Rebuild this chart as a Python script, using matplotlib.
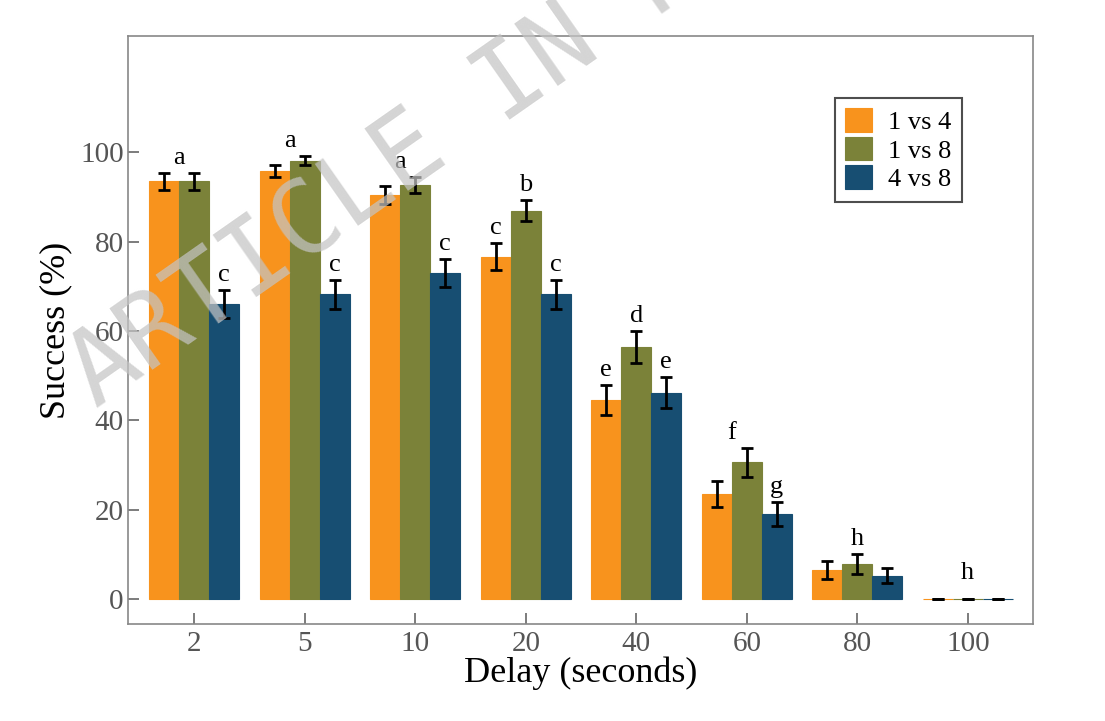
import matplotlib
matplotlib.use('Agg')
import matplotlib.pyplot as plt
import numpy as np

# values
delays = ['2', '5', '10', '20', '40', '60', '80', '100']
series = ['1 vs 4', '1 vs 8', '4 vs 8']
vs14 = [93.5, 95.8, 90.4, 76.6, 44.5, 23.5, 6.5, 0.0]
vs18 = [93.5, 98.1, 92.6, 86.9, 56.4, 30.6, 7.8, 0.0]
vs48 = [66.0, 68.2, 73.0, 68.2, 46.2, 19.0, 5.2, 0.0]
err14 = [1.9, 1.4, 2.1, 3.0, 3.4, 2.9, 2.0, 0.0]
err18 = [1.9, 1.0, 1.8, 2.3, 3.5, 3.2, 2.2, 0.0]
err48 = [3.1, 3.2, 3.1, 3.2, 3.4, 2.7, 1.7, 0.0]

# significance letters: (letter, bar slot) where slot -1/0/1 = bar, -0.5 = between first two
sig_letters = [
    [('a', -0.5), ('c', 1)],
    [('a', -0.5), ('c', 1)],
    [('a', -0.5), ('c', 1)],
    [('c', -1), ('b', 0), ('c', 1)],
    [('e', -1), ('d', 0), ('e', 1)],
    [('f', -0.5), ('g', 1)],
    [('h', 0)],
    [('h', 0)],
]

colors = ['#F8931D', '#7B8239', '#174E72']
serif = 'Liberation Serif'

fig = plt.figure(figsize=(11.05, 7.21), dpi=100)
ax = fig.add_axes([128 / 1105, 1 - 624 / 721, 905 / 1105, 588 / 721])

x = np.arange(len(delays))
w = 0.2715
vals = [vs14, vs18, vs48]
errs = [err14, err18, err48]
for j in range(3):
    ax.bar(x + (j - 1) * w, vals[j], w, color=colors[j], label=series[j],
           edgecolor=colors[j], linewidth=0.8)
    ax.errorbar(x + (j - 1) * w, vals[j], yerr=errs[j], fmt='none', ecolor='black',
                elinewidth=2.0, capsize=4.0, capthick=2.0)

for i, labs in enumerate(sig_letters):
    for lab, slot in labs:
        if slot == -0.5:
            top = max(vals[0][i] + errs[0][i], vals[1][i] + errs[1][i])
        else:
            k = int(slot) + 1
            top = vals[k][i] + errs[k][i]
        ax.text(x[i] + slot * w, max(top + 2.0, 4.5), lab, ha='center', va='baseline',
                fontsize=19, family=serif, color='black')

ax.set_xlim(-0.6, 7.59)
ax.set_ylim(-5.6, 126)
ax.set_xticks(x)
ax.set_xticklabels(delays)
ax.set_yticks([0, 20, 40, 60, 80, 100])
ax.tick_params(axis='both', direction='in', colors='#666666', labelcolor='#555555',
               labelsize=21, width=1.2)
ax.tick_params(axis='y', length=8, pad=3)
ax.tick_params(axis='x', length=8, pad=5)
for t in ax.get_xticklabels() + ax.get_yticklabels():
    t.set_family(serif)
for s in ax.spines.values():
    s.set_color('#888888')
    s.set_linewidth(1.2)

ax.set_xlabel('Delay (seconds)', fontsize=26, family=serif, labelpad=0)
ax.set_ylabel('Success (%)', fontsize=26, family=serif, labelpad=6)

leg = ax.legend(loc='upper right', bbox_to_anchor=(0.921, 0.895), frameon=True,
                fancybox=False, prop={'family': serif, 'size': 19}, handlelength=1.0,
                handleheight=1.0, handletextpad=0.6, labelspacing=0.1,
                borderpad=0.4, borderaxespad=0)
leg.get_frame().set_edgecolor('#222222')
leg.get_frame().set_linewidth(1.5)

# watermark
fig.text(96 / 1105, 1 - 409 / 721, 'ARTICLE IN PRESS', fontsize=74, family='DejaVu Sans Mono',
         color='#c4c4c4', alpha=0.72, rotation=35, rotation_mode='anchor',
         ha='left', va='baseline', zorder=10)

plt.savefig('out.png', dpi=100)
